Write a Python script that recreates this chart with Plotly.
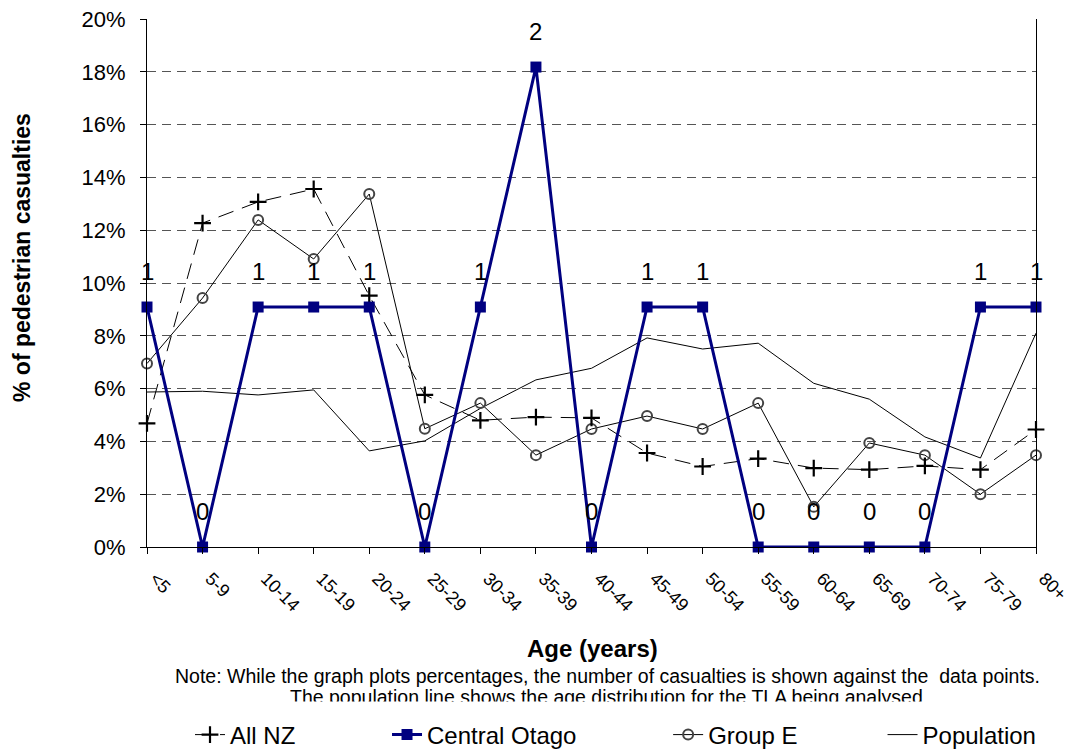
import plotly.graph_objects as go

ages = ["<5", "5-9", "10-14", "15-19", "20-24", "25-29", "30-34", "35-39", "40-44",
        "45-49", "50-54", "55-59", "60-64", "65-69", "70-74", "75-79", "80+"]
all_nz = [4.68, 12.27, 13.07, 13.56, 9.52, 5.76, 4.80, 4.92, 4.89, 3.56, 3.05,
          3.35, 2.99, 2.93, 3.07, 2.93, 4.45]
central_otago = [9.09, 0, 9.09, 9.09, 9.09, 0, 9.09, 18.18, 0, 9.09, 9.09,
                 0, 0, 0, 0, 9.09, 9.09]
central_otago_counts = [1, 0, 1, 1, 1, 0, 1, 2, 0, 1, 1, 0, 0, 0, 0, 1, 1]
group_e = [6.95, 9.43, 12.39, 10.91, 13.37, 4.48, 5.45, 3.48, 4.47, 4.96, 4.47,
           5.45, 1.52, 3.94, 3.48, 2.0, 3.48]
population = [5.87, 5.90, 5.76, 5.95, 3.64, 4.02, 5.25, 6.33, 6.77, 7.92, 7.50,
              7.72, 6.20, 5.60, 4.17, 3.37, 8.10]
y_ticks = [0, 2, 4, 6, 8, 10, 12, 14, 16, 18, 20]

FONT = "Liberation Sans, Arial, sans-serif"
NB = "\u00a0"

# page is offset 8px by the browser's default body margin
W, H = 1064, 741
L, R, T, B = 139, 36, 11, 202

fig = go.Figure()

fig.add_trace(go.Scatter(
    x=ages, y=population, name="Population", mode="lines",
    line=dict(color="black", width=1), legendrank=4, cliponaxis=False))
fig.add_trace(go.Scatter(
    x=ages, y=group_e, name="Group E" + NB * 12, mode="lines+markers",
    line=dict(color="black", width=1),
    marker=dict(symbol="circle-open", size=10, color="#444444",
                line=dict(width=2, color="#444444")),
    legendrank=3, cliponaxis=False))
fig.add_trace(go.Scatter(
    x=ages, y=all_nz, name="All NZ" + NB * 13, mode="lines+markers",
    line=dict(color="black", width=1, dash="16px,9px"),
    marker=dict(symbol="cross-thin", size=12, color="black",
                line=dict(width=2.2, color="black")),
    legendrank=1, cliponaxis=False))
fig.add_trace(go.Scatter(
    x=ages, y=central_otago, name="Central Otago" + NB * 13, mode="lines+markers",
    line=dict(color="#000080", width=3),
    marker=dict(symbol="square", size=11, color="#000080"),
    legendrank=2, cliponaxis=False))

for a, v, c in zip(ages, central_otago, central_otago_counts):
    fig.add_annotation(x=a, y=v, text=str(c), showarrow=False, yshift=36,
                       font=dict(size=24, color="black", family=FONT))

PW, PH = 889, 528  # plot area size in px


def px(page_x):
    return (page_x - 147) / PW


def py(page_y):
    return (547 - page_y) / PH


# x title and notes
fig.add_annotation(xref="paper", yref="paper", x=px(592), y=py(648),
                   xanchor="center", yanchor="middle",
                   text="<b>Age (years)</b>", showarrow=False,
                   font=dict(size=24, color="black", family=FONT))
fig.add_annotation(xref="paper", yref="paper", x=px(607), y=py(676),
                   xanchor="center", yanchor="middle",
                   text="Note: While the graph plots percentages, the number of casualties is shown against the  data points.",
                   showarrow=False, font=dict(size=19.5, color="black", family=FONT))
fig.add_annotation(xref="paper", yref="paper", x=px(606), y=py(697),
                   xanchor="center", yanchor="middle",
                   text="The population line shows the age distribution for the TLA being analysed",
                   showarrow=False, font=dict(size=19.5, color="black", family=FONT))
# white strip clipping the lower part of the second note line (as in the reference)
fig.add_annotation(xref="paper", yref="paper", x=px(606), y=py(713),
                   xanchor="center", yanchor="middle",
                   text=" ", showarrow=False, width=900, height=20,
                   bgcolor="white", font=dict(size=10))
# y title
fig.add_annotation(xref="paper", yref="paper", x=px(22), y=py(258),
                   xanchor="center", yanchor="middle",
                   text="<b>% of pedestrian casualties</b>", textangle=-90,
                   showarrow=False, font=dict(size=23, color="black", family=FONT))

fig.update_layout(
    width=W, height=H,
    margin=dict(l=L, r=R, t=T, b=B, autoexpand=False),
    paper_bgcolor="white", plot_bgcolor="white",
    font=dict(family=FONT, color="black"),
    showlegend=True,
    legend=dict(orientation="h", xref="container", x=(190 - 8) / W, xanchor="left",
                yref="container", y=(H - (735 - 8)) / H, yanchor="middle",
                font=dict(size=24, color="black", family=FONT),
                bgcolor="rgba(0,0,0,0)"),
)
fig.update_xaxes(
    range=[0, 16], showline=True, linecolor="black", linewidth=1,
    ticks="outside", ticklen=6, tickcolor="black", tickangle=45,
    tickfont=dict(size=18, color="black", family=FONT),
    showgrid=False, zeroline=False, ticklabelstandoff=7, ticklabelshift=8,
    ticklabeloverflow="allow", automargin=False,
)
fig.update_yaxes(
    range=[0, 20], tickvals=y_ticks, ticktext=[f"{t}%" for t in y_ticks],
    showline=True, linecolor="black", linewidth=1, mirror=True,
    ticks="outside", ticklen=6, tickcolor="black",
    tickfont=dict(size=22, color="black", family=FONT), ticklabelstandoff=10,
    ticklabeloverflow="allow",
    showgrid=True, gridcolor="#555555", gridwidth=1, griddash="9px,6px",
    zeroline=False, automargin=False,
)

fig.write_html("out.html")
